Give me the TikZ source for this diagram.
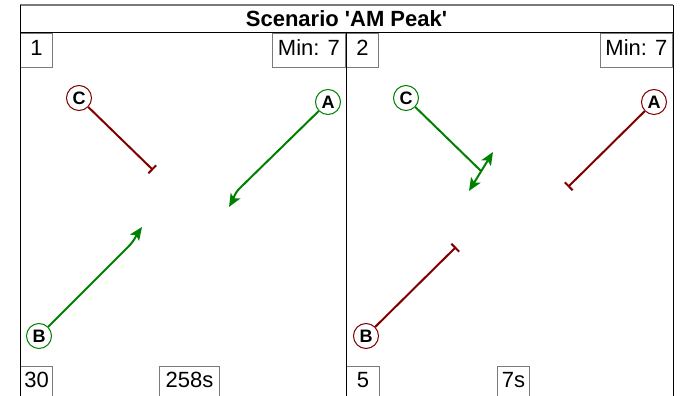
\documentclass[tikz,border=0pt]{standalone}
\usepackage{fontspec}
\setmainfont{Liberation Sans}
\usetikzlibrary{arrows.meta,positioning,calc}
\definecolor{okgreen}{HTML}{008000}
\definecolor{stopred}{HTML}{800000}
\definecolor{boxgray}{HTML}{7A7A7A}
\tikzset{
  lbl/.style={draw=boxgray,line width=1.2pt,minimum height=34pt,minimum width=#1,inner sep=0pt,
              text height=16pt,text depth=6pt,font=\fontsize{22}{26}\selectfont},
  lowlbl/.style={lbl=#1,text depth=8pt},
  appr/.style={circle,fill=white,line width=1pt,minimum size=25pt,inner sep=0pt,
               font=\fontsize{18}{20}\selectfont\bfseries},
  tip/.style={Stealth[length=13pt,width=11pt,inset=3pt]},
  go/.style={okgreen,line width=2pt,-{Stealth[length=13pt,width=11pt,inset=3pt]}},
  stop/.style={stopred,line width=2pt,-{Bar[width=11pt,line width=2pt]}}
}
\begin{document}
\begin{tikzpicture}[x=1pt,y=1pt]
  \useasboundingbox (0,0) rectangle (681,396);
  \node[lbl=32pt,anchor=north west] (n1) at (20,363) {1};
  \node[lbl=73pt,anchor=north east] (min1) at (346,363) {Min: 7};
  \node[lbl=32pt,anchor=north west] (n2) at (346,363) {2};
  \node[lbl=72pt,anchor=north east] (min2) at (673,363) {Min: 7};
  \node[lowlbl=32pt,anchor=north west] (cnt1) at (20,30) {30};
  \node[lowlbl=60pt,anchor=north west] (dur1) at (159,30) {258s};
  \node[lowlbl=33pt,anchor=north west] (cnt2) at (346,30) {5};
  \node[lowlbl=32pt,anchor=north west] (dur2) at (497,30) {7s};
  \draw[boxgray,line width=1.5pt] (20,391) -- (673,391);
  \draw[line width=1pt] (20,391) -- (20,-6) (673,391) -- (673,-6) (346,363) -- (346,-6)
        (20,363) -- (673,363);
  \node[font=\fontsize{22}{26}\selectfont\bfseries] (title) at (346.5,377)
        {Scenario \textquotesingle AM Peak\textquotesingle};
  \node[appr,draw=stopred] (c1) at (79,298) {C};
  \node[appr,draw=okgreen] (a1) at (328,294) {A};
  \node[appr,draw=okgreen] (b1) at (39,60) {B};
  \coordinate (c1end) at (153,226);
  \coordinate (a1bend) at (240,208);
  \coordinate (a1tip) at (229,189);
  \coordinate (b1bend) at (128,149);
  \coordinate (b1tip) at (142,169);
  \draw[stop] (c1) -- (c1end);
  \draw[go] (a1) -- (a1bend) to[out=224,in=60] (a1tip);
  \draw[go] (b1) -- (b1bend) to[out=45,in=235] (b1tip);
  \node[appr,draw=okgreen] (c2) at (406,298) {C};
  \node[appr,draw=stopred] (a2) at (654,294) {A};
  \node[appr,draw=stopred] (b2) at (366,60) {B};
  \coordinate (c2end) at (481,225);
  \coordinate (c2lo) at (469,205);
  \coordinate (c2hi) at (493,244);
  \coordinate (a2end) at (568,209);
  \coordinate (b2end) at (456,149);
  \draw[okgreen,line width=2pt] (c2) -- (c2end);
  \draw[go,{Stealth[length=13pt,width=11pt,inset=3pt]}-{Stealth[length=13pt,width=11pt,inset=3pt]}]
        (c2lo) -- (c2hi);
  \draw[stop] (a2) -- (a2end);
  \draw[stop] (b2) -- (b2end);
\end{tikzpicture}
\end{document}
